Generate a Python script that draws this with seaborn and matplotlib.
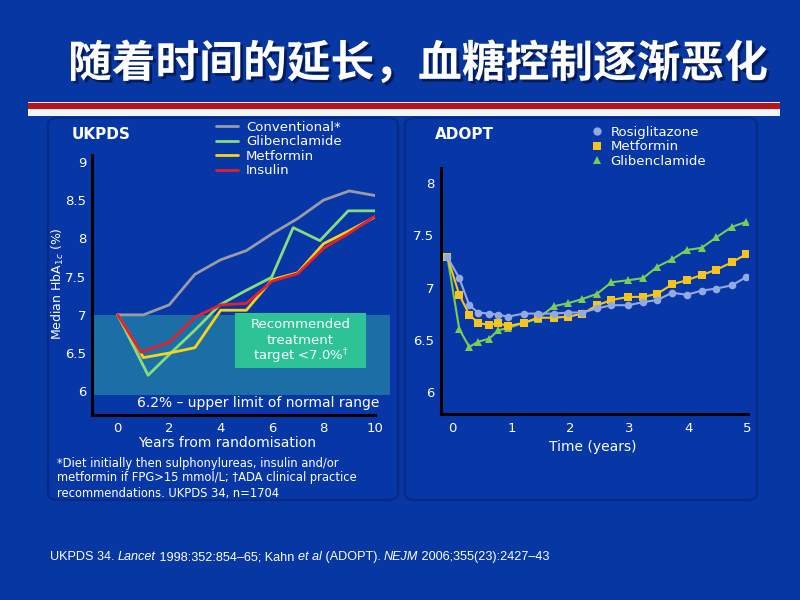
import matplotlib
matplotlib.use('Agg')
import matplotlib.pyplot as plt
import seaborn as sns
import pandas as pd
from matplotlib.patches import FancyBboxPatch, Rectangle
from matplotlib.lines import Line2D
import matplotlib.patheffects as pe

# ---------------- data ----------------
# UKPDS (median HbA1c, %)
conv_years = [0, 1, 2, 3, 4, 5, 6, 7, 8, 9, 10]
conventional = [7.0, 7.0, 7.13, 7.53, 7.72, 7.84, 8.06, 8.26, 8.50, 8.62, 8.56]
glib_years = [0, 1.18, 2, 3, 3.97, 4.94, 5.98, 6.82, 7.86, 8.96, 10]
glibenclamide = [7.0, 6.21, 6.48, 6.80, 7.13, 7.31, 7.49, 8.14, 7.97, 8.36, 8.36]
met_years = [0, 1, 2, 3, 4, 5, 6, 7, 8, 9, 10]
metformin = [7.0, 6.44, 6.50, 6.57, 7.06, 7.06, 7.46, 7.55, 7.93, 8.10, 8.28]
ins_years = [0, 0.9, 2, 3, 4, 5, 6, 7, 8, 9, 10]
insulin = [7.0, 6.51, 6.64, 6.97, 7.13, 7.15, 7.44, 7.54, 7.87, 8.07, 8.29]
ukpds_series = ['Conventional*', 'Glibenclamide', 'Metformin', 'Insulin']

# ADOPT (HbA1c, %)
adopt_time = [-0.09, 0.11, 0.28, 0.43, 0.62, 0.77, 0.93, 1.20, 1.44, 1.71, 1.96, 2.20,
              2.45, 2.69, 2.98, 3.23, 3.47, 3.72, 3.97, 4.22, 4.47, 4.73, 4.98]
rosiglitazone = [7.29, 7.09, 6.83, 6.76, 6.75, 6.74, 6.72, 6.75, 6.75, 6.75, 6.76, 6.76,
                 6.80, 6.83, 6.83, 6.86, 6.88, 6.95, 6.93, 6.97, 6.99, 7.02, 7.10]
adopt_metformin = [7.29, 6.93, 6.74, 6.66, 6.64, 6.66, 6.63, 6.66, 6.71, 6.71, 6.72, 6.75,
                   6.83, 6.88, 6.91, 6.91, 6.94, 7.03, 7.07, 7.12, 7.17, 7.24, 7.32]
adopt_glib = [7.29, 6.60, 6.43, 6.48, 6.51, 6.59, 6.61, 6.66, 6.70, 6.82, 6.85, 6.89,
              6.94, 7.05, 7.07, 7.09, 7.20, 7.27, 7.36, 7.38, 7.48, 7.58, 7.63]
adopt_series = ['Rosiglitazone', 'Metformin', 'Glibenclamide']

ukpds_xticks = [0, 2, 4, 6, 8, 10]
ukpds_yticks = [6, 6.5, 7, 7.5, 8, 8.5, 9]
ukpds_yticklabels = ['6', '6.5', '7', '7.5', '8', '8.5', '9']
adopt_xticks = [0, 1, 2, 3, 4, 5]
adopt_yticks = [6, 6.5, 7, 7.5, 8]
adopt_yticklabels = ['6', '6.5', '7', '7.5', '8']

title_text = '随着时间的延长，血糖控制逐渐恶化'

# ---------------- style ----------------
sns.set_style('ticks')
plt.rcParams['font.family'] = ['DejaVu Sans']
BG = '#0737a3'
W, H = 800, 600

fig = plt.figure(figsize=(8, 6), dpi=100, facecolor=BG)

def fx(px):
    return px / W

def fy(py):
    return 1 - py / H

# stripe under title
fig.patches.append(Rectangle((fx(28), fy(103.5)), fx(780) - fx(28), 1.5 / H,
                             transform=fig.transFigure, facecolor='#e8e8f0', edgecolor='none', zorder=-1))
fig.patches.append(Rectangle((fx(28), fy(108.5)), fx(780) - fx(28), 5.5 / H,
                             transform=fig.transFigure, facecolor='#b3161c', edgecolor='none', zorder=-1))
fig.patches.append(Rectangle((fx(28), fy(116)), fx(780) - fx(28), 7.5 / H,
                             transform=fig.transFigure, facecolor='#f4f4f4', edgecolor='none', zorder=-1))

# panels
for x0, x1 in [(48, 398), (405, 757)]:
    fig.patches.append(FancyBboxPatch((fx(x0), fy(500)), fx(x1) - fx(x0), (500 - 118) / H,
                                      boxstyle='round,pad=0,rounding_size=0.012',
                                      transform=fig.transFigure, facecolor='#0736a6',
                                      edgecolor='#062a86', linewidth=1.6, zorder=-2))

# title
fig.text(fx(68), fy(64), title_text, family=['Noto Sans CJK SC'], fontsize=31.5,
         fontweight='bold', color='white', ha='left', va='center',
         path_effects=[pe.withSimplePatchShadow(offset=(2, -2), shadow_rgbFace='#02154a', alpha=0.8)])

# ---------------- UKPDS axes ----------------
ax1 = fig.add_axes([fx(92), fy(415), fx(375) - fx(92), (415 - 155) / H])
ax1.set_facecolor('none')
ax1.set_zorder(1)
df1 = pd.concat([
    pd.DataFrame({'year': conv_years, 'hba1c': conventional, 'arm': ukpds_series[0]}),
    pd.DataFrame({'year': glib_years, 'hba1c': glibenclamide, 'arm': ukpds_series[1]}),
    pd.DataFrame({'year': met_years, 'hba1c': metformin, 'arm': ukpds_series[2]}),
    pd.DataFrame({'year': ins_years, 'hba1c': insulin, 'arm': ukpds_series[3]}),
], ignore_index=True)
pal1 = {'Conventional*': '#9b9ba6', 'Glibenclamide': '#86dd7c',
        'Metformin': '#f7d417', 'Insulin': '#e3202e'}
sns.lineplot(data=df1, x='year', y='hba1c', hue='arm', palette=pal1, hue_order=ukpds_series,
             estimator=None, sort=False, linewidth=2.0, legend=False, ax=ax1, zorder=3)

ax1.set_xlim(-1, 10)
ax1.set_ylim(5.69, 9.09)
ax1.axhspan(5.95, 7.0, xmin=0, xmax=(390 - 92) / (375 - 92), facecolor='#1b6fa6',
            edgecolor='none', zorder=1, clip_on=False)
# recommended box (figure coordinates, drawn inside the axes above the band)
ax1.add_patch(Rectangle((fx(235), fy(368)), fx(366) - fx(235), (368 - 313) / H,
                        transform=fig.transFigure, facecolor='#2dc397', edgecolor='none',
                        zorder=2, clip_on=False))
ax1.set_xticks(ukpds_xticks)
ax1.set_yticks(ukpds_yticks)
ax1.set_yticklabels(ukpds_yticklabels)
ax1.tick_params(length=0, colors='white', labelsize=9.5)
ax1.tick_params(axis='y', pad=4)
ax1.tick_params(axis='x', pad=5)
for s in ['top', 'right']:
    ax1.spines[s].set_visible(False)
for s in ['left', 'bottom']:
    ax1.spines[s].set_color('black')
    ax1.spines[s].set_linewidth(2.2)
ax1.set_xlabel('')
ax1.set_ylabel('')

fig.text(fx(300.5), fy(325), 'Recommended', color='white', fontsize=9.5, ha='center', va='center', zorder=5)
fig.text(fx(300.5), fy(341), 'treatment', color='white', fontsize=9.5, ha='center', va='center', zorder=5)
fig.text(fx(300.5), fy(356), 'target <7.0%$^{\\dagger}$', color='white', fontsize=9.5, ha='center', va='center', zorder=5)
fig.text(fx(258), fy(403), '6.2% – upper limit of normal range', color='white', fontsize=10,
         ha='center', va='center', zorder=5)

fig.text(fx(72), fy(134), 'UKPDS', color='white', fontsize=11, fontweight='bold', ha='left', va='center')
fig.text(fx(58), fy(284), 'Median HbA$_{1c}$ (%)', color='white', fontsize=9, rotation=90,
         ha='center', va='center')
fig.text(fx(227), fy(443), 'Years from randomisation', color='white', fontsize=10, ha='center', va='center')
foot = ['*Diet initially then sulphonylureas, insulin and/or',
        'metformin if FPG>15 mmol/L; †ADA clinical practice',
        'recommendations. UKPDS 34, n=1704']
for i, line in enumerate(foot):
    fig.text(fx(57), fy(463 + 15 * i), line, color='white', fontsize=8.3, ha='left', va='center')

h1 = [Line2D([], [], color=pal1[k], linewidth=2.0) for k in ukpds_series]
leg1 = fig.legend(h1, ukpds_series, loc='upper left', bbox_to_anchor=(fx(209), fy(114)),
                  frameon=False, borderpad=0, handlelength=1.7, handletextpad=0.6,
                  labelspacing=0.12, fontsize=9.5, labelcolor='white')

# ---------------- ADOPT axes ----------------
ax2 = fig.add_axes([fx(441), fy(414), fx(747.5) - fx(441), (414 - 168) / H])
ax2.set_facecolor('none')
ax2.set_zorder(1)
df2 = pd.concat([
    pd.DataFrame({'time': adopt_time, 'hba1c': adopt_glib, 'drug': 'Glibenclamide'}),
    pd.DataFrame({'time': adopt_time, 'hba1c': adopt_metformin, 'drug': 'Metformin'}),
    pd.DataFrame({'time': adopt_time, 'hba1c': rosiglitazone, 'drug': 'Rosiglitazone'}),
], ignore_index=True)
pal2 = {'Rosiglitazone': '#93a9e2', 'Metformin': '#f6c51c', 'Glibenclamide': '#7bcc55'}
mk2 = {'Rosiglitazone': 'o', 'Metformin': 's', 'Glibenclamide': '^'}
sns.lineplot(data=df2, x='time', y='hba1c', hue='drug', style='drug', palette=pal2,
             markers=mk2, dashes=False, estimator=None, sort=False, linewidth=1.5,
             markersize=5.5, markeredgewidth=0, legend=False, ax=ax2, zorder=3)
ax2.set_xlim(-0.2, 5.0)
ax2.set_ylim(5.787, 8.146)
ax2.set_xticks(adopt_xticks)
ax2.set_yticks(adopt_yticks)
ax2.set_yticklabels(adopt_yticklabels)
ax2.tick_params(length=0, colors='white', labelsize=9.5)
ax2.tick_params(axis='y', pad=5)
ax2.tick_params(axis='x', pad=6)
for s in ['top', 'right']:
    ax2.spines[s].set_visible(False)
for s in ['left', 'bottom']:
    ax2.spines[s].set_color('black')
    ax2.spines[s].set_linewidth(2.2)
ax2.set_xlabel('')
ax2.set_ylabel('')
fig.text(fx(593), fy(447), 'Time (years)', color='white', fontsize=10, ha='center', va='center')
fig.text(fx(435), fy(134), 'ADOPT', color='white', fontsize=11, fontweight='bold', ha='left', va='center')

h2 = [Line2D([], [], color=pal2[k], marker=mk2[k], linestyle='none', markersize=6,
             markeredgewidth=0) for k in adopt_series]
leg2 = fig.legend(h2, adopt_series, loc='upper left', bbox_to_anchor=(fx(584), fy(119)),
                  frameon=False, borderpad=0, handlelength=1.0, handletextpad=0.5,
                  labelspacing=0.12, fontsize=9.5, labelcolor='white')

# ---------------- footer reference ----------------
pieces = [('UKPDS 34. ', 'normal'), ('Lancet', 'italic'), (' 1998:352:854–65; Kahn ', 'normal'),
          ('et al', 'italic'), (' (ADOPT). ', 'normal'), ('NEJM', 'italic'),
          (' 2006;355(23):2427–43', 'normal')]
fig.canvas.draw()
renderer = fig.canvas.get_renderer()
xcur = 50
for txt, style in pieces:
    t = fig.text(fx(xcur), fy(557), txt, color='white', fontsize=9.1, style=style,
                 family=['Liberation Sans'], ha='left', va='center')
    bb = t.get_window_extent(renderer=renderer)
    xcur += bb.width

fig.savefig('out.png', dpi=100, facecolor=BG)
